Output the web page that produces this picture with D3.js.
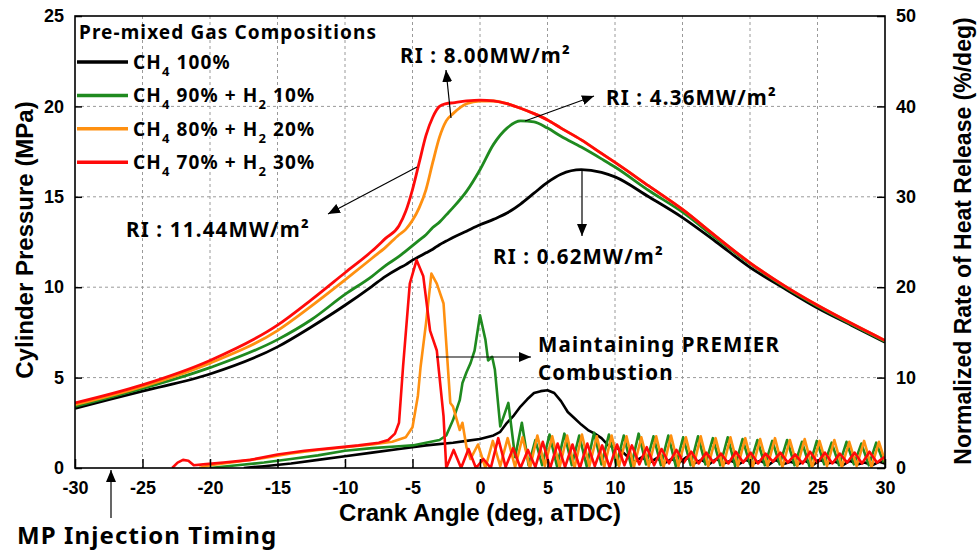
<!DOCTYPE html>
<html>
<head>
<meta charset="utf-8">
<script src="https://cdnjs.cloudflare.com/ajax/libs/d3/7.8.5/d3.min.js"></script>
<style>
    body { margin: 0; background: #ffffff; }
</style>
</head>
<body>
<div id="chart"></div>
<script>

/* Data -------------------------------------------------------------------- */

const angleTicks = [-30, -25, -20, -15, -10, -5, 0, 5, 10, 15, 20, 25, 30];
const pressureTicks = [0, 5, 10, 15, 20, 25];
const hrrTicks = [0, 10, 20, 30, 40, 50];

// Legend rows: [CH4 %, H2 %]
const compositions = [[100, null], [90, 10], [80, 20], [70, 30]];

// Cylinder pressure (MPa), read at these crank angles
const pressureAngles = [-30, -25, -20, -15, -12.5, -10, -8, -7, -6, -5.5, -5, -4.5,
    -4, -3.5, -3, -2.5, -2, -1, 0, 1, 2, 3, 4, 5, 6, 7.5, 9, 10, 12.5, 15, 17.5,
    20, 22.5, 25, 27.5, 30];
const pressureH0 = [3.3, 4.25, 5.2, 6.7, 7.8, 9.0, 10.05, 10.6, 11.05, 11.25, 11.5, 11.7,
    11.9, 12.1, 12.35, 12.55, 12.75, 13.1, 13.45, 13.75, 14.1, 14.6, 15.2, 15.8, 16.25,
    16.5, 16.35, 16.1, 15.0, 13.85, 12.5, 11.1, 9.95, 8.85, 7.9, 6.95];
const pressureH10 = [3.4, 4.4, 5.55, 7.1, 8.2, 9.6, 10.6, 11.2, 11.7, 12.0, 12.3, 12.6,
    12.9, 13.3, 13.6, 14.0, 14.4, 15.3, 16.5, 17.9, 18.8, 19.2, 19.15, 18.8, 18.35,
    17.75, 17.1, 16.65, 15.35, 14.15, 12.7, 11.3, 10.05, 8.95, 7.95, 7.0];
const pressureH20 = [3.5, 4.5, 5.8, 7.6, 8.95, 10.4, 11.6, 12.2, 12.9, 13.2, 13.7, 14.4,
    15.4, 16.9, 18.3, 19.2, 19.6, 20.15, 20.3, 20.3, 20.15, 19.9, 19.6, 19.25, 18.8,
    18.15, 17.4, 16.9, 15.6, 14.3, 12.8, 11.35, 10.1, 9.0, 8.0, 7.05];
const pressureH30 = [3.6, 4.6, 5.95, 7.9, 9.3, 10.8, 12.0, 12.7, 13.4, 14.2, 15.4, 16.9,
    18.4, 19.4, 20.0, 20.15, 20.2, 20.3, 20.35, 20.3, 20.15, 19.9, 19.6, 19.25, 18.8,
    18.15, 17.4, 16.9, 15.6, 14.3, 12.8, 11.35, 10.1, 9.0, 8.0, 7.05];

// Normalized rate of heat release (%/deg): main event as [angle, value]
const hrrMainH0 = [[-17.5, 0], [-16, 0.2], [-14, 0.5], [-12, 0.9], [-10, 1.3], [-8, 1.7],
    [-6, 2.1], [-4, 2.5], [-2, 2.8], [-1, 3.0], [0, 3.2], [1, 3.6], [1.5, 4.0], [2, 5.0],
    [2.5, 5.8], [3, 6.8], [3.5, 7.6], [4, 8.3], [4.5, 8.5], [5, 8.6], [5.5, 8.3],
    [6, 7.4], [6.5, 6.2], [7, 5.5], [7.5, 4.8], [8, 4.2], [8.5, 3.8], [9, 3.3],
    [9.5, 2.5], [10, 2.3], [10.4, 2.0]];
const hrrMainH10 = [[-20, 0], [-18, 0.3], [-16, 0.6], [-14, 1.0], [-12, 1.4], [-10, 1.9],
    [-8, 2.2], [-6, 2.4], [-5, 2.5], [-4, 2.8], [-3, 3.1], [-2.5, 3.6], [-2, 5.3],
    [-1.5, 7.5], [-1.3, 9.4], [-1, 10.6], [-0.7, 11.6], [-0.4, 13.0], [0, 16.9],
    [0.4, 14.2], [0.6, 11.9], [0.9, 12.3], [1.1, 10.9], [1.5, 4.6], [2.1, 7.2],
    [2.6, 1.2], [3.1, 5.0], [3.6, 0.3], [4.1, 3.1]];
const hrrMainH20 = [[-20.8, 0], [-20, 0.3], [-18, 0.7], [-16, 1.1], [-14, 1.6], [-12, 2.0],
    [-10, 2.3], [-8, 2.6], [-6.5, 2.9], [-5.5, 3.4], [-5, 4.5], [-4.6, 8.0], [-4.4, 11.2],
    [-4.0, 16.0], [-3.6, 21.5], [-3.2, 20.4], [-2.7, 18.2], [-2.2, 7.2], [-2.0, 6.8],
    [-1.5, 4.2], [-1.3, 5.0], [-1.0, 2.3]];
const hrrMainH30 = [[-22.8, 0], [-22.4, 0.6], [-22, 0.9], [-21.6, 0.8], [-21.2, 0.3],
    [-20.5, 0.4], [-19, 0.6], [-17, 0.9], [-15, 1.5], [-13, 1.9], [-11, 2.2], [-9, 2.5],
    [-7.5, 2.8], [-6.8, 3.1], [-6.3, 3.8], [-6.0, 5.0], [-5.7, 11.2], [-5.2, 20.4],
    [-4.7, 23.0], [-4.2, 21.2], [-3.7, 15.2], [-3.2, 13.0], [-2.7, 5.7], [-2.5, 0]];

// Oscillating tails after combustion, one reading every tailStep degrees
const tailStep = 0.55;
const tailStartH0 = 10.9;
const tailH0 = [1.3, 0.7, 1.2, 0.6, 1.1, 0.5, 1.0, 0.6, 1.2, 0.5, 0.9, 0.4, 1.0, 0.5,
    0.8, 0.4, 0.9, 0.5, 0.8, 0.3, 0.9, 0.4, 0.7, 0.4, 0.8, 0.3, 0.9, 0.5, 0.7, 0.3,
    0.8, 0.4, 0.6, 0.3, 0.7, 0.4];
const tailStartH10 = 4.6;
const tailH10 = [0.3, 3.7, 0.2, 3.8, 0.3, 3.6, 0.2, 3.9, 0.4, 3.7, 0.3, 3.6, 0.2, 3.8,
    0.4, 3.5, 0.3, 3.6, 0.2, 3.4, 0.3, 3.5, 0.4, 3.3, 0.3, 3.4, 0.2, 3.2, 0.4, 3.1,
    0.3, 3.0, 0.4, 3.1, 0.3, 2.9, 0.2, 3.0, 0.4, 2.8, 0.3, 2.9, 0.4, 2.7, 0.3, 2.8, 0.6];
const tailStartH20 = -0.7;
const tailH20 = [1.0, 2.6, 0.0, 3.0, 0.2, 3.3, 0.1, 3.4, 0.0, 3.6, 0.2, 3.5, 0.1, 3.6,
    0.0, 3.7, 0.2, 3.5, 0.1, 3.6, 0.2, 3.5, 0.1, 3.4, 0.2, 3.5, 0.1, 3.6, 0.2, 3.4,
    0.1, 3.5, 0.2, 3.3, 0.1, 3.4, 0.2, 3.3, 0.1, 3.2, 0.2, 3.3, 0.1, 3.1, 0.2, 3.2,
    0.1, 3.0, 0.2, 3.1, 0.1, 2.9, 0.2, 3.0, 0.1, 2.9, 0.3];
const tailStartH30 = -1.95;
const tailH30 = [2.0, 0.0, 2.1, 0.0, 1.0, 0.0, 3.3, 0.1, 2.2, 0.0, 2.0, 0.1, 2.9, 0.0,
    2.7, 0.1, 2.6, 0.0, 2.7, 0.2, 2.5, 0.1, 2.6, 0.3, 2.5, 0.4, 2.3, 0.3, 2.1, 0.5,
    2.0, 0.6, 1.8, 0.5, 1.7, 0.6, 1.6, 0.5, 1.8, 0.6, 1.7, 0.5, 1.6, 0.7, 1.7, 0.6,
    1.5, 0.5, 1.8, 0.6, 1.7, 0.5, 1.6, 0.6, 1.7, 0.5, 1.8, 0.6, 1.2];

/* Settings ---------------------------------------------------------------- */

const settings = {
    width: 979,
    height: 553,
    marginLeft: 75,
    marginRight: 94,
    marginTop: 16,
    marginBottom: 85,
    colors: ["#000000", "#1f8a1f", "#ff9010", "#ff0a0a"],
    grid: "#9a9a9a",
    axisFont: "'Liberation Sans', Arial, sans-serif",
    noteFont: "'Noto Sans', 'Open Sans', sans-serif"
};

/* Draw graphic ------------------------------------------------------------ */

function withTail(main, start, values) {
    return main.concat(values.map((v, i) => [start + i * tailStep, v]));
}

function drawGraphic() {

    const margin = {
        top: settings.marginTop,
        right: settings.marginRight,
        bottom: settings.marginBottom,
        left: settings.marginLeft};

    const width = settings.width - margin.left - margin.right;
    const height = settings.height - margin.top - margin.bottom;

    const xScale = d3.scaleLinear().domain([-30, 30]).range([0, width]);
    const pScale = d3.scaleLinear().domain([0, 25]).range([height, 0]);
    const hScale = d3.scaleLinear().domain([0, 50]).range([height, 0]);

    const svg = d3.select("#chart")
        .append("svg")
        .attr("width", settings.width)
        .attr("height", settings.height)
        .style("display", "block");

    svg.append("rect")
        .attr("width", settings.width)
        .attr("height", settings.height)
        .attr("fill", "#ffffff");

    // Arrow head marker
    const defs = svg.append("defs");
    defs.append("marker")
        .attr("id", "arrow")
        .attr("markerUnits", "userSpaceOnUse")
        .attr("viewBox", "0 0 12 10")
        .attr("refX", 12)
        .attr("refY", 5)
        .attr("markerWidth", 12)
        .attr("markerHeight", 10)
        .attr("orient", "auto")
        .append("path")
        .attr("d", "M0,0 L12,5 L0,10 Z")
        .attr("fill", "#000");

    defs.append("clipPath")
        .attr("id", "plot-clip")
        .append("rect")
        .attr("width", width)
        .attr("height", height);

    const canvas = svg.append("g")
        .attr("transform", `translate(${margin.left},${margin.top})`);

    // Gridlines
    canvas.append("g")
        .selectAll("line")
        .data(angleTicks.slice(1, -1))
        .join("line")
        .attr("x1", d => xScale(d))
        .attr("x2", d => xScale(d))
        .attr("y1", 0)
        .attr("y2", height);

    canvas.append("g")
        .selectAll("line")
        .data(pressureTicks.slice(1, -1))
        .join("line")
        .attr("x1", 0)
        .attr("x2", width)
        .attr("y1", d => pScale(d))
        .attr("y2", d => pScale(d));

    canvas.selectAll("g line")
        .attr("stroke", settings.grid)
        .attr("stroke-width", 1)
        .attr("stroke-dasharray", "3,3");

    // Lines
    const plot = canvas.append("g").attr("clip-path", "url(#plot-clip)");

    const pressureLine = d3.line()
        .x(d => xScale(d[0]))
        .y(d => pScale(d[1]))
        .curve(d3.curveMonotoneX);

    const hrrLine = d3.line()
        .x(d => xScale(d[0]))
        .y(d => hScale(d[1]));

    const pressureSeries = [pressureH0, pressureH10, pressureH20, pressureH30]
        .map(values => values.map((v, i) => [pressureAngles[i], v]));

    const hrrSeries = [
        withTail(hrrMainH0, tailStartH0, tailH0),
        withTail(hrrMainH10, tailStartH10, tailH10),
        withTail(hrrMainH20, tailStartH20, tailH20),
        withTail(hrrMainH30, tailStartH30, tailH30)];

    plot.selectAll(".pressure")
        .data(pressureSeries)
        .join("path")
        .attr("class", "pressure")
        .attr("d", pressureLine)
        .attr("fill", "none")
        .attr("stroke", (d, i) => settings.colors[i])
        .attr("stroke-width", 2.8)
        .attr("stroke-linejoin", "round");

    plot.selectAll(".hrr")
        .data(hrrSeries)
        .join("path")
        .attr("class", "hrr")
        .attr("d", hrrLine)
        .attr("fill", "none")
        .attr("stroke", (d, i) => settings.colors[i])
        .attr("stroke-width", 2.6)
        .attr("stroke-linejoin", "round");

    // Axes
    const xAxis = canvas.append("g")
        .attr("class", "axis")
        .attr("transform", `translate(0,${height})`)
        .call(d3.axisBottom(xScale)
            .tickValues(angleTicks)
            .tickSize(-9)
            .tickPadding(13)
            .tickFormat(d3.format("d")));

    canvas.append("g")
        .attr("class", "axis")
        .call(d3.axisLeft(pScale)
            .tickValues(pressureTicks)
            .tickSize(-7)
            .tickPadding(11));

    canvas.append("g")
        .attr("class", "axis")
        .attr("transform", `translate(${width},0)`)
        .call(d3.axisRight(hScale)
            .tickValues(hrrTicks)
            .tickSize(-8)
            .tickPadding(11));

    canvas.selectAll(".axis path").remove();
    canvas.selectAll(".axis line")
        .attr("stroke", "#000")
        .attr("stroke-width", 1.5);
    canvas.selectAll(".axis text")
        .attr("fill", "#000")
        .style("font-family", settings.axisFont)
        .style("font-weight", "bold")
        .style("font-size", "18px");
    xAxis.selectAll("text").text(d => d < 0 ? "-" + Math.abs(d) : d);

    // Frame
    canvas.append("rect")
        .attr("width", width)
        .attr("height", height)
        .attr("fill", "none")
        .attr("stroke", "#000")
        .attr("stroke-width", 1.6);

    // Axis titles
    svg.append("text")
        .attr("x", margin.left + width / 2)
        .attr("y", 521)
        .attr("text-anchor", "middle")
        .style("font-family", settings.axisFont)
        .style("font-weight", "bold")
        .style("font-size", "24px")
        .text("Crank Angle (deg, aTDC)");

    svg.append("text")
        .attr("transform", "translate(24,240) rotate(-90)")
        .attr("text-anchor", "middle")
        .attr("dominant-baseline", "central")
        .style("font-family", settings.axisFont)
        .style("font-weight", "bold")
        .style("font-size", "24px")
        .text("Cylinder Pressure (MPa)");

    svg.append("text")
        .attr("transform", "translate(963,241) rotate(-90)")
        .attr("text-anchor", "middle")
        .attr("dominant-baseline", "central")
        .style("font-family", settings.axisFont)
        .style("font-weight", "bold")
        .style("font-size", "23px")
        .text("Normalized Rate of Heat Release (%/deg)");

    // Legend
    const legend = svg.append("g")
        .style("font-family", settings.noteFont)
        .style("font-weight", "bold")
        .style("letter-spacing", "1.1px");

    legend.append("text")
        .attr("x", 79)
        .attr("y", 39)
        .style("font-size", "19px")
        .text("Pre-mixed Gas Compositions");

    compositions.forEach((c, i) => {
        const cy = 62 + i * 33.4;
        legend.append("line")
            .attr("x1", margin.left + 2)
            .attr("x2", margin.left + 53)
            .attr("y1", cy)
            .attr("y2", cy)
            .attr("stroke", settings.colors[i])
            .attr("stroke-width", 3.5);

        const label = legend.append("text")
            .attr("x", 133)
            .attr("y", cy + 7)
            .style("font-size", "19px");
        label.append("tspan").text("CH");
        label.append("tspan").attr("dy", 7).style("font-size", "13px").text("4");
        label.append("tspan").attr("dy", -7).text(` ${c[0]}%`);
        if (c[1] !== null) {
            label.append("tspan").text(" + H");
            label.append("tspan").attr("dy", 7).style("font-size", "13px").text("2");
            label.append("tspan").attr("dy", -7).text(` ${c[1]}%`);
        }
    });

    // Annotations
    const notes = svg.append("g")
        .style("font-family", settings.noteFont)
        .style("font-weight", "bold")
        .style("font-size", "20.5px")
        .style("letter-spacing", "1.2px");

    const riNotes = [
        {text: "RI : 8.00MW/m²", x: 400, y: 63},
        {text: "RI : 4.36MW/m²", x: 606, y: 105},
        {text: "RI : 11.44MW/m²", x: 126, y: 237},
        {text: "RI : 0.62MW/m²", x: 493, y: 264},
        {text: "Maintaining PREMIER", x: 538, y: 352},
        {text: "Combustion", x: 538, y: 380}];

    notes.selectAll("text")
        .data(riNotes)
        .join("text")
        .attr("x", d => d.x)
        .attr("y", d => d.y)
        .text(d => d.text);

    svg.append("text")
        .attr("x", 17)
        .attr("y", 544)
        .style("font-family", settings.noteFont)
        .style("font-weight", "bold")
        .style("font-size", "24px")
        .style("letter-spacing", "1.1px")
        .text("MP Injection Timing");

    const arrows = [
        [451, 118, 446, 70],
        [525, 121, 594, 96],
        [417, 167, 328, 214],
        [582, 170, 582, 236],
        [436, 357, 531, 357],
        [111, 518, 111, 470]];

    svg.append("g")
        .selectAll("line")
        .data(arrows)
        .join("line")
        .attr("x1", d => d[0])
        .attr("y1", d => d[1])
        .attr("x2", d => d[2])
        .attr("y2", d => d[3])
        .attr("stroke", "#000")
        .attr("stroke-width", 1.2)
        .attr("marker-end", "url(#arrow)");
}

/* Main -------------------------------------------------------------------- */

drawGraphic();

</script>
</body>
</html>
